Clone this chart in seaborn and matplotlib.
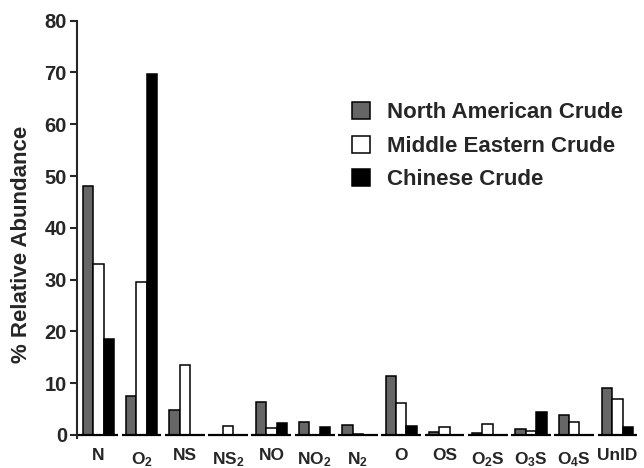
import matplotlib
matplotlib.use("Agg")
import matplotlib.pyplot as plt
from matplotlib.patches import Patch
from matplotlib.transforms import ScaledTranslation
import seaborn as sns
import pandas as pd

# Compound classes and their relative abundance (%) in each crude oil
categories = ["N", "O$_2$", "NS", "NS$_2$", "NO", "NO$_2$", "N$_2$",
              "O", "OS", "O$_2$S", "O$_3$S", "O$_4$S", "UnID"]
north_american = [48.0, 7.6, 4.8, 0.0, 6.4, 2.6, 2.0, 11.3, 0.6, 0.3, 1.2, 3.9, 9.1]
middle_eastern = [33.1, 29.5, 13.5, 1.7, 1.3, 0.0, 0.1, 6.1, 1.5, 2.1, 0.8, 2.5, 6.9]
chinese = [18.5, 69.7, 0.0, 0.0, 2.4, 1.5, 0.0, 1.8, 0.0, 0.0, 4.4, 0.0, 1.5]
series_names = ["North American Crude", "Middle Eastern Crude", "Chinese Crude"]
y_ticks = [0, 10, 20, 30, 40, 50, 60, 70, 80]

colors = ["#666666", "#ffffff", "#000000"]

sns.set_style("ticks")
plt.rcParams["font.family"] = ["Liberation Sans", "DejaVu Sans"]
plt.rcParams["font.weight"] = "bold"
plt.rcParams["mathtext.fontset"] = "custom"
plt.rcParams["mathtext.rm"] = "Liberation Sans:bold"
plt.rcParams["mathtext.it"] = "Liberation Sans:bold"
plt.rcParams["mathtext.bf"] = "Liberation Sans:bold"
plt.rcParams["mathtext.default"] = "rm"

rows = []
for name, vals in zip(series_names, [north_american, middle_eastern, chinese]):
    for cat, v in zip(categories, vals):
        rows.append({"Class": cat, "Abundance": v, "Crude": name})
df = pd.DataFrame(rows)

fig = plt.figure(figsize=(6.44, 4.68), dpi=100)
ax = fig.add_axes([76.7 / 644, 33 / 468, 562.4 / 644, 414.3 / 468])

sns.barplot(data=df, x="Class", y="Abundance", hue="Crude", order=categories,
            hue_order=series_names, palette=colors, width=0.72, gap=0,
            edgecolor="black", linewidth=1.1, errorbar=None, legend=False, ax=ax)

ax.set_xlim(-0.5, len(categories) - 0.5)
ax.set_ylim(0, 80)
ax.set_yticks(y_ticks)
ax.set_yticklabels([str(t) for t in y_ticks])
ax.tick_params(axis="y", labelsize=14.5, width=1.5, length=5, pad=2)
ax.tick_params(axis="x", labelsize=12.5, length=0, pad=9)
ax.set_xlabel("")
ax.set_ylabel("% Relative Abundance", fontsize=16, fontweight="bold")
ax.yaxis.set_label_coords(-0.0795, 0.461)

for side in ["top", "right", "bottom"]:
    ax.spines[side].set_visible(False)
ax.spines["left"].set_linewidth(1.5)
ax.spines["left"].set_bounds(-0.6, 80)

# Broken baseline: one short segment under each category group
for i in range(len(categories)):
    left = -0.5 if i == 0 else i - 0.46
    ax.hlines(0, left, i + 0.46, colors="black", linewidth=1.6, clip_on=False)

# Subscripted labels sit slightly lower
for lbl in ax.get_xticklabels():
    if "_" in lbl.get_text():
        lbl.set_transform(lbl.get_transform() +
                          ScaledTranslation(0, -3 / 100, fig.dpi_scale_trans))

handles = [Patch(facecolor=c, edgecolor="black", linewidth=1.1) for c in colors]
ax.legend(handles, series_names, loc="upper left",
          bbox_to_anchor=(351.7 / 644, 1 - 102 / 468), bbox_transform=fig.transFigure,
          frameon=False, fontsize=16, handlelength=0.81, handleheight=0.81,
          handletextpad=0.8, labelspacing=0.55, borderpad=0, borderaxespad=0)

fig.savefig("out.png", dpi=100)
